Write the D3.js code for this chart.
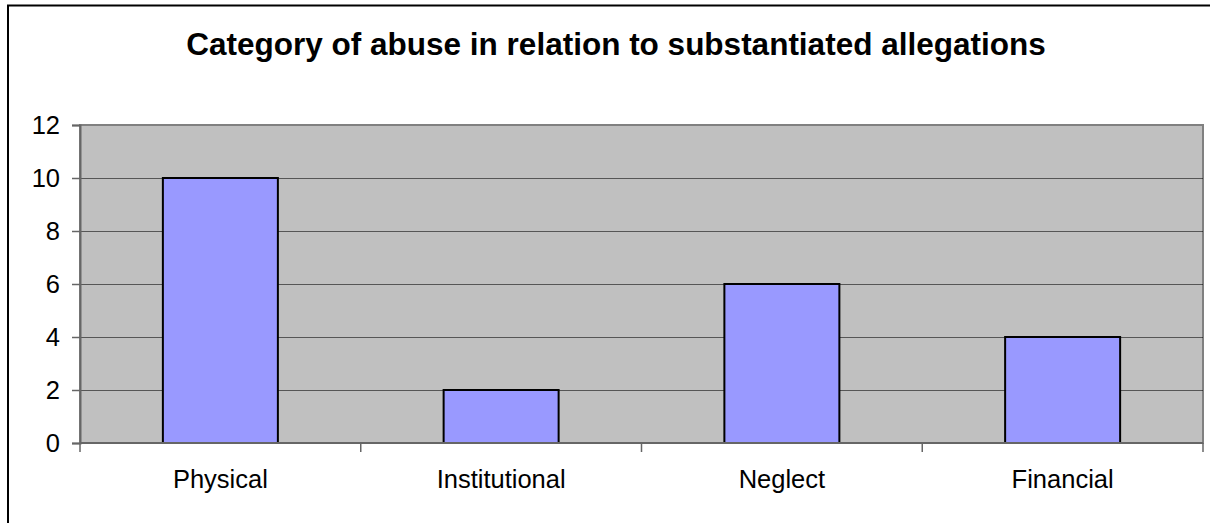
<!DOCTYPE html>
<html><head><meta charset="utf-8">
<script src="https://cdn.jsdelivr.net/npm/d3@7"></script>
<style>body{margin:0;background:#fff;}svg{display:block;font-family:"Liberation Sans",Arial,sans-serif;}</style>
</head><body>
<script>
const categories = ["Physical", "Institutional", "Neglect", "Financial"];
const values = [10, 2, 6, 4];
const yTicks = [0, 2, 4, 6, 8, 10, 12];
const title = "Category of abuse in relation to substantiated allegations";

const W = 1210, H = 523;
const svg = d3.select("body").append("svg").attr("width", W).attr("height", H);
svg.append("rect").attr("x", 8).attr("y", 5.5).attr("width", W + 10).attr("height", H + 10)
  .attr("fill", "#fff").attr("stroke", "#000").attr("stroke-width", 2);

svg.append("text").attr("x", 616).attr("y", 55).attr("text-anchor", "middle")
  .attr("font-size", 31.5).attr("font-weight", "bold").text(title);

const L = 80, R = 1203, T = 125, B = 443;
const x = d3.scaleBand().domain(categories).range([L, R]).paddingInner(0).paddingOuter(0);
const y = d3.scaleLinear().domain([0, 12]).range([B, T]);

svg.append("rect").attr("x", L).attr("y", T).attr("width", R - L).attr("height", B - T)
  .attr("fill", "#C0C0C0").attr("stroke", "#808080").attr("stroke-width", 2);

svg.append("g").selectAll("line").data(yTicks.filter(d => d > 0 && d < 12)).join("line")
  .attr("x1", L).attr("x2", R).attr("y1", d => Math.round(y(d)) + 0.5).attr("y2", d => Math.round(y(d)) + 0.5)
  .attr("stroke", "#000").attr("stroke-width", 1).attr("opacity", 0.55);

const bw = 115;
svg.append("g").selectAll("rect").data(values).join("rect")
  .attr("x", (d, i) => x(categories[i]) + x.bandwidth() / 2 - bw / 2)
  .attr("y", d => y(d))
  .attr("width", bw).attr("height", d => B - y(d))
  .attr("fill", "#9999FF").attr("stroke", "#000").attr("stroke-width", 2);

const yAxis = svg.append("g").attr("transform", `translate(${L},0)`)
  .call(d3.axisLeft(y).tickValues(yTicks).tickSize(8).tickPadding(12).tickFormat(d3.format("d")));
yAxis.select(".domain").attr("stroke", "#666").attr("stroke-width", 2);
yAxis.selectAll(".tick line").attr("stroke", "#666").attr("stroke-width", 1.5);
yAxis.selectAll("text").attr("font-size", 25.5).attr("fill", "#000").attr("font-family", "Liberation Sans, Arial, sans-serif");

const xAxis = svg.append("g").attr("transform", `translate(0,${B})`);
xAxis.append("line").attr("x1", L).attr("x2", R).attr("y1", 0).attr("y2", 0).attr("stroke", "#666").attr("stroke-width", 2);
const bounds = categories.map(c => x(c)).concat([R]);
xAxis.selectAll("line.t").data(bounds).join("line").attr("class", "t")
  .attr("x1", d => d).attr("x2", d => d).attr("y1", 0).attr("y2", 9).attr("stroke", "#666").attr("stroke-width", 1.5);
xAxis.selectAll("text").data(categories).join("text")
  .attr("x", d => x(d) + x.bandwidth() / 2).attr("y", 45).attr("text-anchor", "middle")
  .attr("font-size", 25.5).text(d => d);
</script>
</body></html>
